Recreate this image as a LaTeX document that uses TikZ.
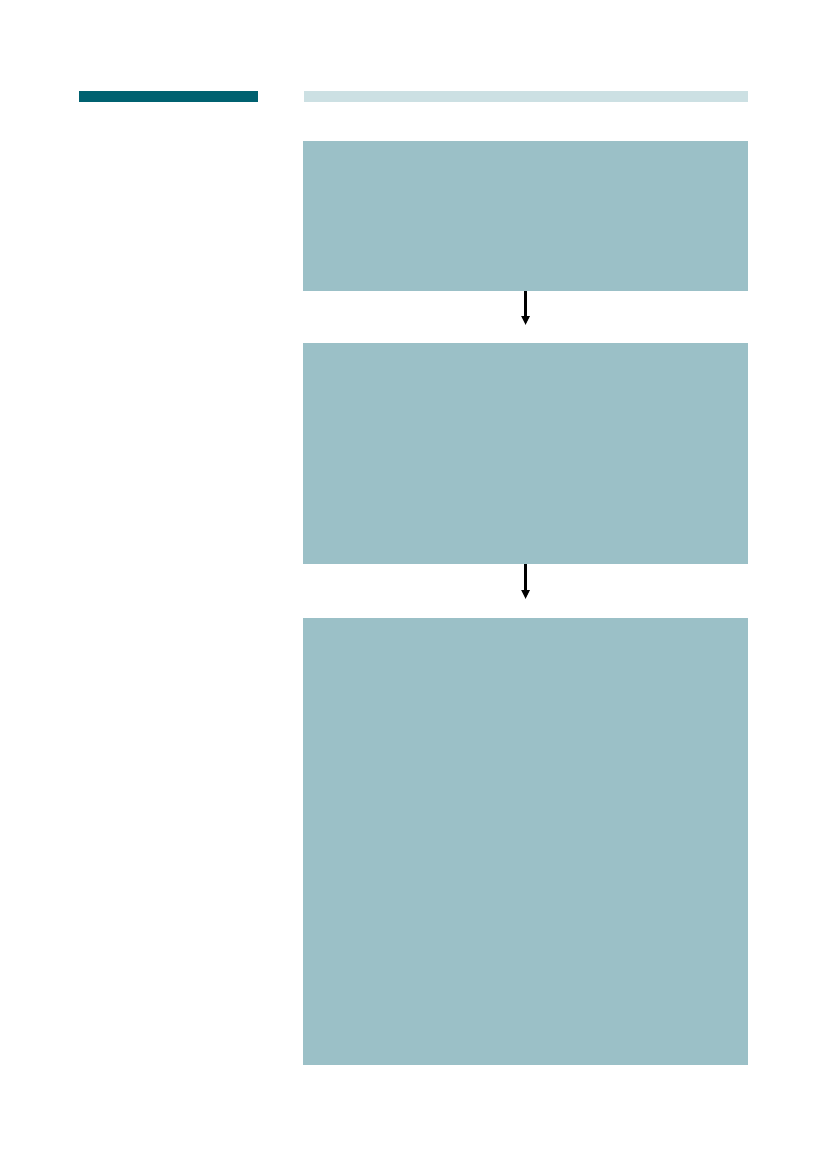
\documentclass[tikz,border=0pt]{standalone}
\usetikzlibrary{arrows.meta}
\definecolor{darkteal}{RGB}{0,97,112}
\definecolor{lightteal}{RGB}{204,224,227}
\definecolor{boxteal}{RGB}{155,192,199}
\begin{document}
\begin{tikzpicture}[x=1pt,y=-1pt,
  bar/.style={draw=none,inner sep=0pt,outer sep=0pt,anchor=north west},
  panel/.style={fill=boxteal,draw=none,inner sep=0pt,outer sep=0pt,anchor=north west,minimum width=445pt},
  flow/.style={line width=2.4pt,-{Triangle[width=8pt,length=9pt]}}]
\useasboundingbox (0,0) rectangle (827,1170);
\fill[white] (0,0) rectangle (827,1170);
\node[bar,fill=darkteal,minimum width=179pt,minimum height=11pt] (dbar) at (79,91) {};
\node[bar,fill=lightteal,minimum width=444pt,minimum height=11pt] (lbar) at (304,91) {};
\node[panel,minimum height=150pt] (b1) at (303,141) {};
\node[panel,minimum height=221pt] (b2) at (303,343) {};
\node[panel,minimum height=447pt] (b3) at (303,618) {};
\coordinate (e1) at (525.5,325);
\coordinate (e2) at (525.5,599);
\draw[flow] (b1.south -| e1) -- (e1);
\draw[flow] (b2.south -| e2) -- (e2);
\end{tikzpicture}
\end{document}
